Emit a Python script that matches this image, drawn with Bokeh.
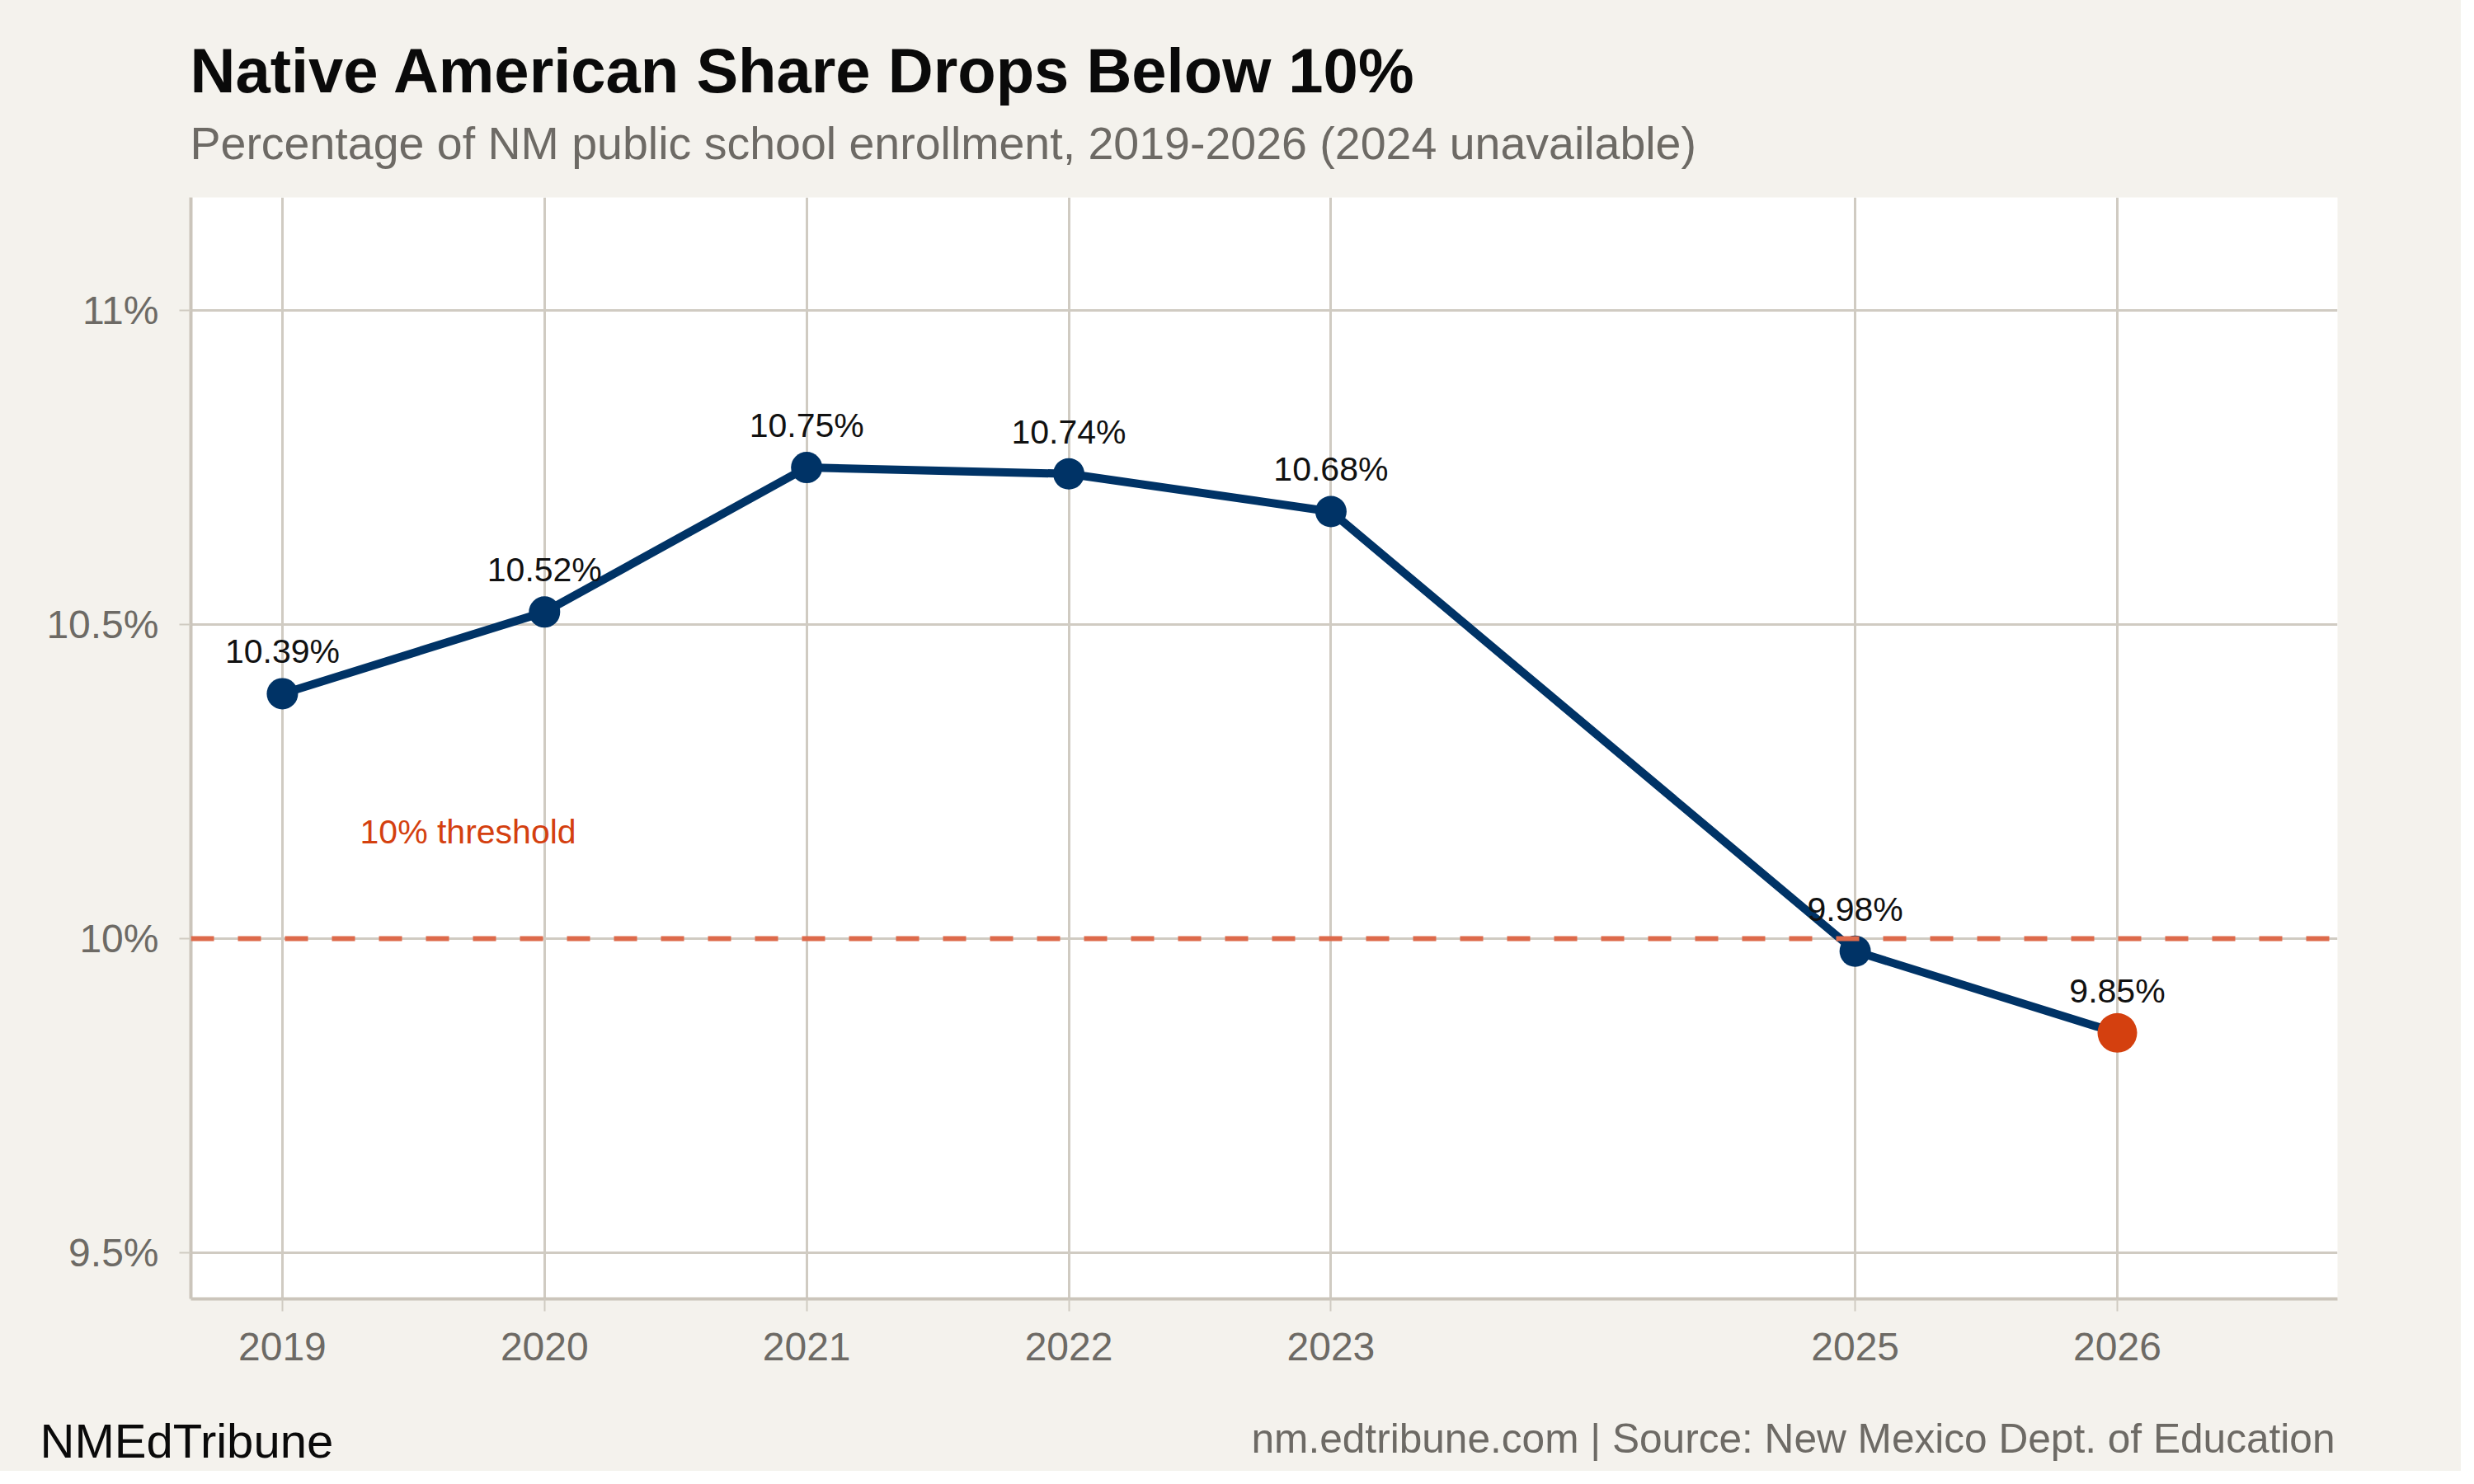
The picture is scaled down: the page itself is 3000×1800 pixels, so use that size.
from bokeh.plotting import figure
from bokeh.models import ColumnDataSource, Range1d, FixedTicker, Span, Label
from bokeh.layouts import column
from bokeh.core.properties import value
from bokeh.embed import file_html
from bokeh.resources import INLINE

# ---- data ----
years = [2019, 2020, 2021, 2022, 2023, 2025, 2026]
share = [10.39, 10.52, 10.75, 10.74, 10.68, 9.98, 9.85]
x_ticks = [2019, 2020, 2021, 2022, 2023, 2025, 2026]
y_ticks = [9.5, 10.0, 10.5, 11.0]
y_tick_labels = ["9.5%", "10%", "10.5%", "11%"]
threshold = 10.0
threshold_text = "10% threshold"
title_text = "Native American Share Drops Below 10%"
subtitle_text = "Percentage of NM public school enrollment, 2019-2026 (2024 unavailable)"
brand_text = "NMEdTribune"
source_text = "nm.edtribune.com | Source: New Mexico Dept. of Education"

FONT = "Liberation Sans"
BG = "#f4f2ed"
NAVY = "#003366"
ORANGE = "#d4400f"
GRAY_TXT = "#6d6a65"
GRID = "#d0cbc2"
AXIS = "#cbc5bb"

W = 2984
H_HEAD, H_MAIN, H_FOOT = 239, 1461, 84
ML, MR, MB = 231, 150, 125


def blank(h):
    f = figure(width=W, height=h, output_backend="svg", toolbar_location=None,
               x_range=Range1d(0, W), y_range=Range1d(h, 0), title=None,
               x_axis_location=None, y_axis_location=None,
               min_border=0, min_border_left=0, min_border_right=0,
               min_border_top=0, min_border_bottom=0, frame_align=False)
    f.grid.visible = False
    f.background_fill_color = BG
    f.border_fill_color = BG
    f.outline_line_color = None
    return f


# ---- header ----
head = blank(H_HEAD)
head.add_layout(Label(x=230, y=85, text=title_text, text_font=FONT, text_font_size="76px",
                      text_font_style="bold", text_color="#0a0a0a", text_baseline="middle"))
head.add_layout(Label(x=230, y=173, text=subtitle_text, text_font=FONT, text_font_size="55.5px",
                      text_color=GRAY_TXT, text_baseline="middle"))

# ---- main chart ----
p = figure(width=W, height=H_MAIN, output_backend="svg", toolbar_location=None, title=None,
           x_range=Range1d(2018.651, 2026.84), y_range=Range1d(9.4265, 11.18),
           min_border_left=ML, min_border_right=MR, min_border_top=0, min_border_bottom=MB,
           frame_align=False)
p.background_fill_color = "white"
p.border_fill_color = BG
p.outline_line_color = None

p.xgrid.ticker = FixedTicker(ticks=x_ticks)
p.ygrid.ticker = FixedTicker(ticks=y_ticks)
for g in (p.xgrid, p.ygrid):
    g.grid_line_color = GRID
    g.grid_line_width = 3

p.xaxis.ticker = FixedTicker(ticks=x_ticks)
p.yaxis.ticker = FixedTicker(ticks=y_ticks)
p.yaxis.major_label_overrides = {t: l for t, l in zip(y_ticks, y_tick_labels)}
p.xaxis.major_label_overrides = {t: str(t) for t in x_ticks}
for ax in (p.xaxis, p.yaxis):
    ax.axis_line_color = AXIS
    ax.axis_line_width = 4
    ax.major_tick_line_color = GRID
    ax.major_tick_line_width = 2
    ax.major_tick_in = 0
    ax.minor_tick_line_color = None
    ax.major_label_text_font = FONT
    ax.major_label_text_font_size = "48px"
    ax.major_label_text_color = GRAY_TXT
p.xaxis.major_tick_out = 15
p.yaxis.major_tick_out = 14
p.xaxis.major_label_standoff = 26
p.yaxis.major_label_standoff = 25

p.add_layout(Span(location=threshold, dimension="width", line_color="#dd6a4b",
                  line_width=6, line_dash="28 29"))
p.add_layout(Label(x=2019.296, y=10.170, text=threshold_text, text_font=FONT,
                   text_font_size="41px", text_color=ORANGE, text_baseline="middle",
                   text_align="left"))

src = ColumnDataSource(dict(x=years, y=share, lab=[f"{v:.2f}%" for v in share]))
first = ColumnDataSource(dict(x=years[:-1], y=share[:-1]))
last = ColumnDataSource(dict(x=years[-1:], y=share[-1:]))

p.line("x", "y", source=src, line_color=NAVY, line_width=10)
p.scatter("x", "y", source=first, size=38, fill_color=NAVY, line_color=None)
p.scatter("x", "y", source=last, size=48, fill_color=ORANGE, line_color=None)
p.text("x", "y", text="lab", source=src, text_font=value(FONT), text_font_size="41px",
       text_color="#111111", text_align="center", text_baseline="middle", y_offset=-51)

# ---- footer ----
foot = blank(H_FOOT)
foot.add_layout(Label(x=48, y=46.5, text=brand_text, text_font=FONT, text_font_size="58px",
                      text_color="#0a0a0a", text_baseline="middle"))
foot.add_layout(Label(x=2831, y=44, text=source_text, text_font=FONT, text_font_size="49.6px",
                      text_color=GRAY_TXT, text_baseline="middle", text_align="right"))

layout = column(head, p, foot, spacing=0, styles={"background-color": BG})
open("out.html", "w").write(file_html(layout, INLINE))
